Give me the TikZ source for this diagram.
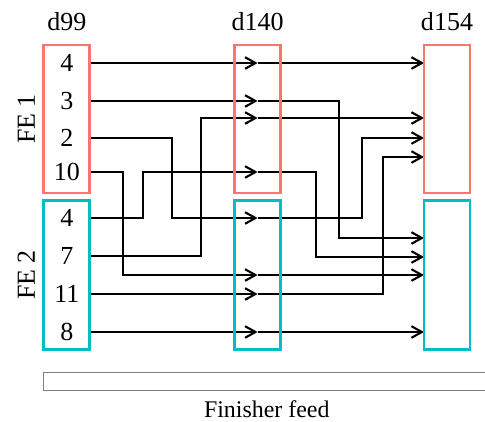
\documentclass[tikz,border=0pt]{standalone}
\usepackage{fontspec}
\setmainfont{Liberation Serif}
\usepackage{xcolor}
\usepackage{tikz}
\usetikzlibrary{arrows.meta,positioning}

\definecolor{fered}{HTML}{F8766D}
\definecolor{fecyan}{HTML}{00BFC4}

\begin{document}
\begin{tikzpicture}[
    febox/.style={rectangle, draw, line width=2.1pt, minimum width=1.15cm, inner sep=0pt},
    num/.style={minimum width=1.15cm, inner sep=0pt, font=\fontsize{18.5}{22}\selectfont},
    lbl/.style={font=\fontsize{18.5}{22}\selectfont, anchor=base},
    arrow/.style={-{Straight Barb[length=2.6mm, width=2.9mm]}, line width=1.5pt}
]
\useasboundingbox (0,0) rectangle (12.125,-10.525);

% Column labels
\node[lbl] (l99) at (1.67,-0.77) {d99};
\node[lbl] (l140) at (6.44,-0.77) {d140};
\node[lbl] (l154) at (11.175,-0.77) {d154};
\node[lbl, rotate=90] (fe1) at (0.875,-2.975) {FE 1};
\node[lbl, rotate=90] (fe2) at (0.875,-6.875) {FE 2};

% Feeds at d99
\node[num] (n4a) at (1.67,-1.575) {4};
\node[num] (n3) at (1.67,-2.525) {3};
\node[num] (n2) at (1.67,-3.45) {2};
\node[num] (n10) at (1.67,-4.3) {10};
\node[num] (n4b) at (1.67,-5.45) {4};
\node[num] (n7) at (1.67,-6.4) {7};
\node[num] (n11) at (1.67,-7.35) {11};
\node[num] (n8) at (1.67,-8.3) {8};

% Points at d140
\coordinate (m1) at (6.44,-1.575);
\coordinate (m2) at (6.44,-2.525);
\coordinate (m3) at (6.44,-2.95);
\coordinate (m4) at (6.44,-4.3);
\coordinate (m5) at (6.44,-5.45);
\coordinate (m6) at (6.44,-6.875);
\coordinate (m7) at (6.44,-7.35);
\coordinate (m8) at (6.44,-8.3);

% Entries at d154
\coordinate (e1) at (10.6,-1.575);
\coordinate (e2) at (10.6,-2.95);
\coordinate (e3) at (10.6,-3.45);
\coordinate (e4) at (10.6,-3.925);
\coordinate (e5) at (10.6,-5.95);
\coordinate (e6) at (10.6,-6.425);
\coordinate (e7) at (10.6,-6.875);
\coordinate (e8) at (10.6,-8.3);

% FE 1 routes
\draw[arrow] (n4a) -- (m1);
\draw[arrow] (m1) -- (e1);
\draw[arrow] (n3) -- (m2);
\draw[arrow] (m2) -- ++(2.04,0) |- (e5);
\draw[arrow] (n2.east) -- ++(2.05,0) |- (m5);
\draw[arrow] (m5) -- ++(2.62,0) |- (e3);
\draw[arrow] (n10.east) -- ++(0.825,0) |- (m6);
\draw[arrow] (m6) -- (e7);

% FE 2 routes
\draw[arrow] (n4b.east) -- ++(1.325,0) |- (m4);
\draw[arrow] (m4) -- ++(1.455,0) |- (e6);
\draw[arrow] (n7.east) -- ++(2.77,0) |- (m3);
\draw[arrow] (m3) -- (e2);
\draw[arrow] (n11) -- (m7);
\draw[arrow] (m7) -- ++(3.14,0) |- (e4);
\draw[arrow] (n8) -- (m8);
\draw[arrow] (m8) -- (e8);

% Boxes
\node[febox, draw=fered, minimum height=3.7cm] (r99) at (1.67,-2.975) {};
\node[febox, draw=fecyan, minimum height=3.725cm] (c99) at (1.67,-6.875) {};
\node[febox, draw=fered, minimum height=3.7cm] (r140) at (6.44,-2.975) {};
\node[febox, draw=fecyan, minimum height=3.725cm] (c140) at (6.44,-6.875) {};
\node[febox, draw=fered, minimum height=3.7cm] (r154) at (11.175,-2.975) {};
\node[febox, draw=fecyan, minimum height=3.725cm] (c154) at (11.175,-6.875) {};

% Finisher feed
\node[rectangle, draw=black!50, line width=0.7pt, minimum width=11.1625cm, minimum height=0.45cm, inner sep=0pt] (feed) at (6.669,-9.5375) {};
\node[font=\fontsize{17}{20}\selectfont, inner sep=0pt, below=0.225cm of feed] (feedlbl) {Finisher feed};

\end{tikzpicture}
\end{document}
